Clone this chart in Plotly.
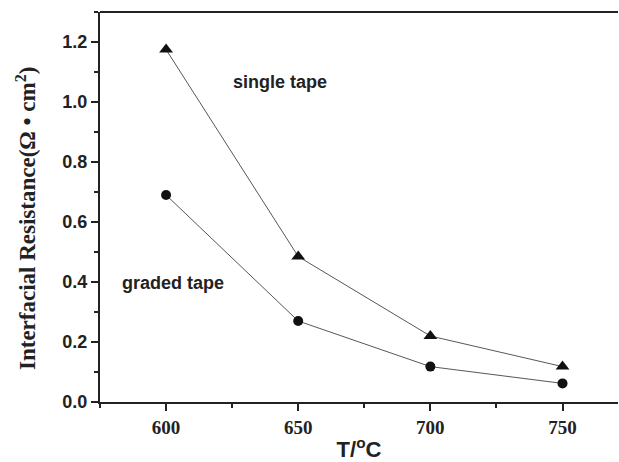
import plotly.graph_objects as go

temperature = [600, 650, 700, 750]
single_tape = [1.175, 0.485, 0.22, 0.118]
graded_tape = [0.69, 0.27, 0.118, 0.062]

x_ticks = [600, 650, 700, 750]
y_ticks = [0.0, 0.2, 0.4, 0.6, 0.8, 1.0, 1.2]

line_style = dict(color="#444444", width=0.9)
ink = "#222222"

fig = go.Figure()
fig.add_trace(go.Scatter(
    x=temperature, y=single_tape, mode="lines+markers",
    line=line_style,
    marker=dict(symbol="triangle-up", size=12, color="#111111"),
    name="single tape", cliponaxis=False,
))
fig.add_trace(go.Scatter(
    x=temperature, y=graded_tape, mode="lines+markers",
    line=line_style,
    marker=dict(symbol="circle", size=10, color="#111111"),
    name="graded tape", cliponaxis=False,
))

label_font = dict(family="Liberation Sans, Arial", size=18, color=ink, weight="bold")
fig.add_annotation(x=643, y=1.067, text="single tape", showarrow=False, font=label_font)
fig.add_annotation(x=602.5, y=0.397, text="graded tape", showarrow=False, font=label_font)

# y-axis title, placed as rotated text left of the tick labels
fig.add_annotation(
    xref="paper", yref="y", x=-0.143, y=0.613, xanchor="center", yanchor="middle",
    text="Interfacial Resistance(Ω • cm<sup>2</sup>)", textangle=-90, showarrow=False,
    font=dict(family="Liberation Serif, Times New Roman", size=23, color=ink, weight="bold"),
)

# top frame line (no right-hand axis)
fig.add_shape(type="line", xref="paper", yref="paper", x0=0, x1=1, y0=1, y1=1,
              line=dict(color=ink, width=2))

fig.update_layout(
    width=619, height=462,
    margin=dict(l=100, r=1, t=12, b=60),
    plot_bgcolor="white", paper_bgcolor="white",
    showlegend=False,
    xaxis=dict(
        range=[575, 771], tickvals=x_ticks, ticks="outside", ticklen=7, tickwidth=2,
        tickcolor=ink, showline=True, linewidth=2, linecolor=ink,
        showgrid=False, zeroline=False,
        minor=dict(dtick=25, tick0=575, ticks="outside", ticklen=4, tickwidth=2, tickcolor=ink),
        tickfont=dict(family="Liberation Serif, Times New Roman", size=19, color=ink, weight="bold"),
        title=dict(text="T/<sup>o</sup>C", standoff=8,
                   font=dict(family="Liberation Sans, Arial", size=22, color=ink, weight="bold")),
    ),
    yaxis=dict(
        range=[0, 1.3], tickvals=y_ticks, ticks="outside", ticklen=7, tickwidth=2,
        tickcolor=ink, showline=True, linewidth=2, linecolor=ink,
        showgrid=False, zeroline=False, tickformat=".1f",
        minor=dict(dtick=0.1, ticks="outside", ticklen=4, tickwidth=2, tickcolor=ink),
        tickfont=dict(family="Liberation Sans, Arial", size=18, color=ink, weight="bold"),
    ),
)

fig.write_html("out.html")
